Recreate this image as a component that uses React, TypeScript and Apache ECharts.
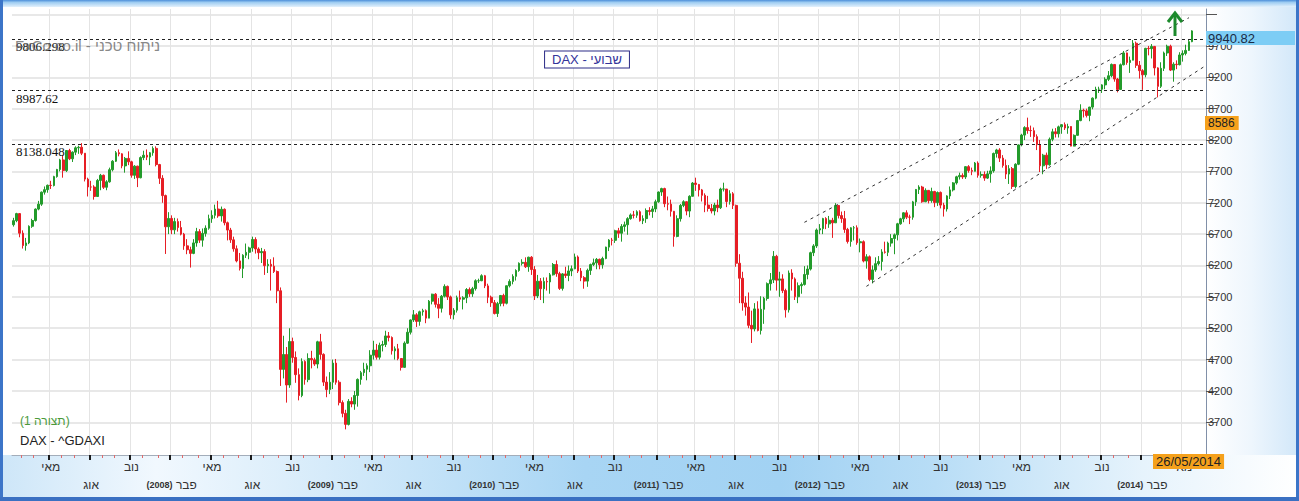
import React, { useEffect, useRef } from 'react';
import * as echarts from 'echarts';

// Weekly DAX candles, first week Monday 2007-02-12, last week 2014-05-26
const START_UTC = Date.UTC(2007, 1, 12);
const EXTRA_WEEKS = 4;
const FIRST_OPEN = 6850;

const closes = [
  6915,7027,6715,6518,6560,6825,6917,7099,7178,7369,
  7409,7479,7475,7617,7731,7883,7713,8033,7901,8007,
  8076,8085,7990,7577,7452,7451,7300,7556,7638,7447,
  7534,7727,7862,7998,7980,7788,7907,7853,7638,7784,
  7599,7920,7958,7928,7997,8067,7809,7590,7314,6817,
  6950,6768,6900,6805,6700,6513,6451,6393,6560,6740,
  6604,6712,6795,6946,7000,7100,6991,7096,6881,6765,
  6609,6466,6273,6154,6364,6410,6480,6614,6463,6404,
  6422,6197,6219,6189,6104,5797,4544,4781,4295,4988,
  4734,4460,4127,4669,4381,4718,4696,4629,4984,4783,
  4341,4222,4339,4644,4339,4014,3843,3667,4034,3991,
  4128,4384,4492,4546,4602,4770,4851,4738,4928,4940,
  5077,5052,4840,4872,4717,4576,4962,5136,5332,5414,
  5309,5462,5480,5361,5631,5743,5581,5518,5710,5867,
  5699,5414,5487,5687,5663,5685,5817,5748,5831,5957,
  5957,6037,5875,5695,5608,5434,5592,5722,5598,5877,
  5946,6027,6120,6235,6250,6180,6332,6135,5715,5950,
  5829,5946,5938,6051,6216,6070,5835,6066,6040,6113,
  6147,6336,6111,6006,5951,6122,6214,6242,6298,6211,
  6311,6493,6605,6601,6754,6714,6823,6849,6947,7006,
  7002,7057,6914,6947,7076,7062,7102,7216,7371,7426,
  7185,7178,7064,6664,6946,7158,7217,7068,7303,7514,
  7492,7405,7319,7163,7109,7069,7164,7121,7419,7419,
  7220,7344,7158,6236,5997,5603,5537,5246,5189,5508,
  5164,5502,5675,5910,5971,6346,5966,5986,5800,5493,
  6080,5986,5702,5878,5898,6057,6143,6404,6512,6766,
  6788,6948,6864,6921,6880,7157,6996,6947,6775,6583,
  6801,6801,6562,6579,6271,6339,5978,6130,6229,6263,
  6416,6410,6557,6630,6689,6865,6944,7040,6971,6970,
  7214,7412,7451,7216,7398,7233,7380,7203,7364,7163,
  7101,7309,7405,7517,7614,7636,7612,7776,7715,7702,
  7833,7638,7652,7593,7661,7708,7986,8042,7912,7795,
  7658,7744,7459,7814,8122,8279,8398,8352,8349,8254,
  8127,7789,7959,7806,8212,8331,8300,8410,8445,8392,
  8416,8103,8275,8510,8675,8665,8592,8725,8868,9010,
  9010,9079,9168,9225,9405,9172,9006,9400,9589,9435,
  9473,9743,9392,9306,9240,9662,9657,9692,9350,9056,
  9343,9588,9695,9315,9409,9401,9556,9581,9629,9768,
  9940
];

const highs = [
  6960,7040,7032,6760,6640,6840,6945,7110,7230,7380,
  7460,7490,7550,7630,7740,7900,7950,8040,8060,8020,
  8100,8110,8151,7990,7600,7550,7480,7580,7660,7650,
  7560,7760,7880,8025,8050,7990,7930,8020,7870,7800,
  7790,7940,8030,8050,8010,8100,8100,7820,7640,7330,
  7050,7000,6960,6950,6910,6720,6620,6500,6620,6800,
  6780,6790,6840,7010,7080,7170,7231,7140,7110,6900,
  6800,6660,6520,6400,6380,6550,6500,6660,6650,6490,
  6480,6460,6300,6300,6330,6120,5850,5080,4900,5200,
  5050,4830,4560,4720,4690,4800,4840,4730,5000,5110,
  4800,4430,4500,4700,4710,4370,4050,3900,4070,4100,
  4200,4400,4520,4650,4640,4850,5000,4950,4970,5000,
  5160,5140,5070,4910,4950,4720,4990,5200,5340,5490,
  5440,5480,5510,5500,5650,5750,5760,5680,5730,5900,
  5880,5720,5520,5720,5800,5710,5840,5850,5860,5980,
  5990,6060,6050,5910,5720,5650,5620,5730,5750,5880,
  5980,6060,6140,6250,6300,6330,6340,6350,6190,6050,
  6000,6010,6010,6080,6240,6280,6100,6080,6180,6200,
  6200,6390,6360,6160,6030,6150,6230,6310,6320,6310,
  6340,6500,6620,6640,6770,6800,6860,6900,6970,7030,
  7070,7080,7080,7000,7110,7130,7150,7250,7380,7440,
  7440,7300,7250,7070,7000,7180,7240,7220,7320,7530,
  7600,7500,7420,7350,7310,7180,7200,7250,7440,7520,
  7420,7400,7370,7170,6380,6100,5710,5770,5480,5600,
  5630,5710,5700,5930,6080,6430,6370,6100,6060,5830,
  6120,6140,6010,5930,5930,6190,6200,6420,6540,6790,
  6860,6960,6970,6990,6960,7194,7160,7060,7070,6800,
  6810,6830,6840,6630,6600,6380,6360,6200,6330,6350,
  6460,6580,6580,6700,6710,6880,6960,7050,7080,7010,
  7230,7420,7480,7470,7430,7400,7440,7390,7380,7380,
  7200,7320,7460,7530,7630,7680,7670,7780,7800,7760,
  7850,7860,7700,7700,7710,7780,8000,8060,8070,7960,
  7890,7800,7770,7830,8130,8300,8420,8557,8430,8400,
  8290,8200,7980,8000,8240,8380,8390,8430,8450,8480,
  8460,8420,8290,8520,8770,8700,8700,8730,8880,9050,
  9050,9090,9200,9300,9420,9410,9190,9420,9620,9595,
  9530,9794,9770,9460,9330,9670,9700,9730,9700,9360,
  9440,9610,9720,9720,9440,9470,9600,9630,9720,9800,
  9950
];

const lows = [
  6820,6890,6650,6470,6437,6540,6800,6900,7080,7150,
  7330,7360,7420,7460,7600,7700,7600,7690,7880,7850,
  7960,7980,7960,7540,7300,7390,7250,7300,7400,7420,
  7400,7520,7700,7850,7940,7750,7680,7800,7600,7580,
  7450,7590,7880,7880,7800,7950,7780,7500,7200,6384,
  6700,6700,6700,6740,6680,6450,6380,6167,6380,6500,
  6560,6500,6660,6770,6880,6950,6960,6900,6840,6600,
  6560,6420,6250,6120,6000,6320,6300,6420,6390,6300,
  6240,6050,6080,5800,6080,5600,4280,4400,4014,4250,
  4650,4330,4050,4100,4300,4340,4560,4600,4560,4700,
  4280,4100,4150,4230,4300,3970,3780,3588,3650,3940,
  3900,3950,4300,4440,4370,4500,4700,4700,4700,4830,
  4900,4990,4780,4700,4690,4525,4570,4950,5100,5300,
  5220,5240,5400,5280,5360,5580,5530,5360,5450,5690,
  5650,5350,5340,5450,5620,5500,5600,5700,5700,5800,
  5920,5950,5840,5600,5540,5420,5380,5550,5550,5580,
  5850,5900,5960,6100,6200,6160,6100,6050,5650,5680,
  5650,5600,5800,5750,6040,6020,5810,5800,6000,5950,
  6030,6140,6080,5950,5830,5860,6050,6190,6140,6140,
  6150,6300,6430,6520,6560,6640,6580,6740,6690,6930,
  6950,6960,6900,6860,6880,7000,6960,7050,7200,7310,
  7130,7080,6980,6500,6650,6900,7130,7000,6970,7300,
  7390,7300,7220,7050,7060,7030,7000,7050,7100,7380,
  7130,7170,7100,6180,5600,5480,5400,5200,4965,5150,
  5150,5100,5270,5640,5800,5920,5800,5700,5760,5370,
  5450,5800,5650,5600,5750,5880,5980,6120,6350,6480,
  6700,6700,6780,6800,6640,6880,6950,6880,6720,6550,
  6500,6600,6530,6410,6250,6150,5950,5914,6100,6200,
  6120,6390,6350,6500,6380,6600,6850,6890,6940,6860,
  6930,7150,7340,7200,7210,7190,7200,7130,7150,7110,
  6980,7060,7260,7380,7490,7570,7580,7580,7680,7640,
  7700,7600,7600,7550,7580,7520,7680,7920,7850,7760,
  7580,7500,7420,7430,7800,8100,8200,8300,8250,8170,
  8040,7690,7655,7740,7790,8180,8240,8240,8300,8360,
  8300,8100,8100,8270,8500,8560,8560,8500,8690,8850,
  8950,8950,9010,9140,9200,9130,8960,9000,9390,9400,
  9270,9470,9350,9180,9000,9200,9550,9500,9230,8880,
  9030,9300,9540,9300,9130,9330,9390,9450,9550,9620,
  9760
];

const monthNames: Record<number, string> = { 2: 'פבר', 5: 'מאי', 8: 'אוג', 11: 'נוב' };
const yTickValues = [3700, 4200, 4700, 5200, 5700, 6200, 6700, 7200, 7700, 8200, 8700, 9200, 9700, 10200];
const yLabelValues = [3700, 4200, 4700, 5200, 5700, 6200, 6700, 7200, 7700, 8200, 8700, 9200, 9700];
const levelValues = [9806.298, 8987.62, 8138.048];
const levelLabels = ['9806.298', '8987.62', '8138.048'];
// channel lines: [week index, value]
const channelUpper = [[255, 6888], [379, 10150]];
const channelLower = [[275, 5867], [384, 9374]];
const lastCloseText = '9940.82';
const cursorText = '8586';
const lastDateText = '26/05/2014';

const SANS = "'Liberation Sans', 'DejaVu Sans', Arial, sans-serif";
const SERIF = "'Liberation Serif', 'DejaVu Serif', serif";

function buildDates(): string[] {
  const out: string[] = [];
  for (let i = 0; i < closes.length + EXTRA_WEEKS; i++) {
    const d = new Date(START_UTC + i * 7 * 86400000);
    out.push(d.toISOString().slice(0, 10));
  }
  return out;
}

const isMonthStart = (v: string) => Number(v.slice(8, 10)) <= 7;
const isQuarterStart = (v: string) => isMonthStart(v) && monthNames[Number(v.slice(5, 7))] !== undefined;

export default function App() {
  const ref = useRef<HTMLDivElement>(null);

  useEffect(() => {
    document.body.style.margin = '0';
    if (!ref.current) return;
    const chart = echarts.init(ref.current, undefined, { renderer: 'svg' });
    const dates = buildDates();
    const candleData = closes.map((c, i) => {
      const o = i === 0 ? FIRST_OPEN : closes[i - 1];
      return [o, c, lows[i], highs[i]];
    });

    const labelFormatter = (v: string) => {
      const m = Number(v.slice(5, 7));
      const y = v.slice(0, 4);
      const name = monthNames[m];
      if (!name) return '';
      if (m === 5 || m === 11) return `{m|${name}}`;
      if (m === 8) return `\n{m|${name}}`;
      return `\n{y|(${y})} {m|${name}}`;
    };

    const option: any = {
      animation: false,
      grid: { left: 12, right: 93, top: 9, bottom: 46 },
      xAxis: [
        {
          type: 'category',
          data: dates,
          boundaryGap: true,
          axisLine: { show: true, lineStyle: { color: '#a3adba', width: 1 } },
          axisTick: {
            show: true,
            interval: (_i: number, v: string) => isQuarterStart(v),
            length: 5,
            lineStyle: { color: '#1a1a1a', width: 2 },
          },
          axisLabel: {
            show: true,
            interval: (_i: number, v: string) => isQuarterStart(v),
            formatter: labelFormatter,
            color: '#333',
            fontSize: 12,
            lineHeight: 18,
            margin: 3,
            fontFamily: SANS,
            rich: {
              m: { fontSize: 12, lineHeight: 18, color: '#333', fontFamily: SANS },
              y: { fontSize: 9, lineHeight: 18, fontWeight: 'bold', color: '#333', fontFamily: SANS },
            },
          },
          splitLine: {
            show: true,
            interval: (_i: number, v: string) => isQuarterStart(v),
            lineStyle: { color: '#e4e4e4', width: 1 },
          },
        },
        {
          type: 'category',
          data: dates,
          boundaryGap: true,
          position: 'bottom',
          axisLine: { show: false },
          axisTick: {
            show: true,
            interval: (_i: number, v: string) => isMonthStart(v) && !isQuarterStart(v),
            length: 3,
            lineStyle: { color: '#e06a6a', width: 1 },
          },
          axisLabel: { show: false },
          splitLine: { show: false },
        },
      ],
      yAxis: {
        type: 'value',
        position: 'right',
        min: 3179,
        max: 10289,
        axisLine: { show: true, lineStyle: { color: '#8190a8', width: 1 } },
        axisTick: { show: true, customValues: yTickValues, length: 11, lineStyle: { color: '#555' } },
        axisLabel: {
          show: true,
          customValues: yLabelValues,
          formatter: (v: number) => String(v),
          color: '#333',
          fontSize: 11,
          margin: 2,
          fontFamily: SANS,
        },
        splitLine: { show: true, lineStyle: { color: '#e0e0e0', width: 1.5 } },
      },
      series: [
        {
          type: 'candlestick',
          xAxisIndex: 0,
          data: candleData,
          barWidth: 2.2,
          itemStyle: {
            color: '#239b2b',
            color0: '#e61e25',
            borderColor: '#239b2b',
            borderColor0: '#e61e25',
            borderWidth: 1,
          },
          markLine: {
            silent: true,
            symbol: ['none', 'none'],
            animation: false,
            data: [
              ...levelValues.map((v, k) => ({
                yAxis: v,
                lineStyle: { color: '#222', type: [3, 3], width: 1 },
                label: {
                  show: true,
                  position: 'insideStartBottom',
                  formatter: levelLabels[k],
                  color: '#111',
                  fontSize: 13,
                  fontFamily: SERIF,
                  distance: 1,
                  padding: [0, 0, 0, 3],
                },
              })),
              [
                { coord: [dates[channelUpper[0][0]], channelUpper[0][1]] },
                { coord: [dates[channelUpper[1][0]], channelUpper[1][1]] },
              ],
              [
                { coord: [dates[channelLower[0][0]], channelLower[0][1]] },
                { coord: [dates[channelLower[1][0]], channelLower[1][1]] },
              ],
            ],
            lineStyle: { color: '#333', type: [3, 4], width: 1 },
            label: { show: false },
          },
        },
      ],
      graphic: [
        {
          type: 'text', x: 15, y: 45, z: 50, silent: true,
          style: {
            text: 'FxCo.co.il - ניתוח טכני',
            font: `15px ${SANS}`,
            fill: 'rgba(105,105,105,0.8)',
            verticalAlign: 'middle',
          },
        },
        {
          type: 'text', x: 587, y: 59.5, z: 50, silent: true,
          style: {
            text: 'DAX - שבועי',
            font: `13px ${SANS}`,
            fill: '#33339a',
            align: 'center',
            verticalAlign: 'middle',
            backgroundColor: '#ffffff',
            borderColor: '#2b2b86',
            borderWidth: 1,
            padding: [2, 7, 1, 7],
          },
        },
        {
          type: 'text', x: 20, y: 421, z: 50, silent: true,
          style: { text: '(1 תצורה)', font: `12px ${SANS}`, fill: '#4a9a3a', verticalAlign: 'middle' },
        },
        {
          type: 'text', x: 20, y: 440, z: 50, silent: true,
          style: { text: 'DAX - ^GDAXI', font: `13px ${SANS}`, fill: '#222', verticalAlign: 'middle' },
        },
        {
          type: 'text', x: 1206, y: 31, z: 60, silent: true,
          style: {
            text: lastCloseText,
            font: `13px ${SANS}`,
            lineHeight: 14,
            fill: '#1a2a44',
            verticalAlign: 'top',
            backgroundColor: '#7dcdf5',
            padding: [0, 40, 0, 2],
          },
        },
        {
          type: 'text', x: 1205, y: 116, z: 60, silent: true,
          style: {
            text: cursorText,
            font: `12px ${SANS}`,
            lineHeight: 14,
            fill: '#222',
            verticalAlign: 'top',
            backgroundColor: '#f5a11c',
            padding: [0, 4, 0, 3],
          },
        },
        {
          type: 'text', x: 1153, y: 454, z: 60, silent: true,
          style: {
            text: lastDateText,
            font: `13px ${SANS}`,
            lineHeight: 15,
            fill: '#222',
            verticalAlign: 'top',
            backgroundColor: '#f5a11c',
            padding: [0, 3, 0, 3],
          },
        },
        {
          type: 'polyline', z: 60, silent: true,
          shape: { points: [[1168, 22], [1175, 13], [1182, 22]] },
          style: { stroke: '#1c8a2c', lineWidth: 3, fill: null },
        },
        {
          type: 'line', z: 60, silent: true,
          shape: { x1: 1175, y1: 14, x2: 1175, y2: 36 },
          style: { stroke: '#1c8a2c', lineWidth: 3 },
        },
      ],
    };

    chart.setOption(option);
    return () => chart.dispose();
  }, []);

  return (
    <div style={{ position: 'relative', width: 1299, height: 501, background: '#ffffff', overflow: 'hidden' }}>
      <div style={{ position: 'absolute', left: 0, top: 0, width: 1299, height: 7, background: 'linear-gradient(#4d8fd9 0%, #9fcdf2 35%, #e3f1fc 100%)' }} />
      <div style={{ position: 'absolute', left: 1206, top: 7, width: 90, height: 448, background: 'linear-gradient(to right, #ffffff 0%, #eef6fd 50%, #d3e8f9 100%)' }} />
      <div style={{ position: 'absolute', left: 0, top: 455, width: 1299, height: 42, background: 'linear-gradient(to right, #cde6f8 0%, #f1f8fe 12%, #d6ebfa 25%, #a8d5f4 45%, #a2d2f3 60%, #b8ddf6 72%, #e6f3fc 88%, #ffffff 100%)' }} />
      <div style={{ position: 'absolute', left: 0, top: 0, width: 3, height: 501, background: '#3c75c8' }} />
      <div style={{ position: 'absolute', left: 1296, top: 0, width: 3, height: 501, background: '#3c75c8' }} />
      <div style={{ position: 'absolute', left: 0, top: 497, width: 1299, height: 4, background: '#3a70c2' }} />
      <div ref={ref} style={{ position: 'absolute', left: 0, top: 0, width: 1299, height: 501 }} />
    </div>
  );
}
